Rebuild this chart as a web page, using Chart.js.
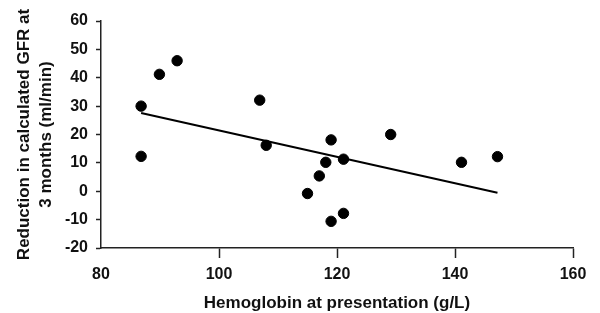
<!DOCTYPE html>
<html>
<head>
<meta charset="utf-8">
<script src="https://cdn.jsdelivr.net/npm/chart.js@4/dist/chart.umd.min.js"></script>
<style>
  html, body { margin: 0; padding: 0; background: #fff; }
  #wrap { width: 600px; height: 313px; position: relative; }
</style>
</head>
<body>
<div id="wrap"><canvas id="myChart"></canvas></div>
<script>
// hemoglobin (g/L) vs reduction in GFR (ml/min)
const hemoglobin = [86.8, 86.8, 89.9, 92.9, 106.9, 108.0, 115.0, 117.0, 118.1, 119.0, 121.1, 119.0, 121.1, 129.1, 141.1, 147.2];
const gfrReduction = [30.0, 12.3, 41.2, 46.0, 32.1, 16.2, -0.8, 5.4, 10.2, 18.1, 11.3, -10.6, -7.8, 20.0, 10.2, 12.2];

// fitted line end points
const fitX = [86.8, 147.2];
const fitY = [27.6, -0.5];

const xTicks = [80, 100, 120, 140, 160];
const yTicks = [-20, -10, 0, 10, 20, 30, 40, 50, 60];

document.addEventListener('DOMContentLoaded', function() {
  const points = hemoglobin.map((x, i) => ({ x: x, y: gfrReduction[i] }));
  const line = fitX.map((x, i) => ({ x: x, y: fitY[i] }));

  const family = 'Liberation Sans, Arial, sans-serif';
  const tickFont = { family: family, size: 16, weight: 'bold' };

  const ctx = document.getElementById('myChart').getContext('2d');
  new Chart(ctx, {
    type: 'scatter',
    data: {
      datasets: [{
        label: 'Patients',
        data: points,
        backgroundColor: '#000',
        borderColor: '#000',
        pointRadius: 5.2,
        pointHoverRadius: 5.2
      }, {
        type: 'line',
        label: 'Fit',
        data: line,
        borderColor: '#000',
        borderWidth: 2,
        pointRadius: 0,
        fill: false
      }]
    },
    options: {
      responsive: true,
      maintainAspectRatio: false,
      animation: false,
      layout: { padding: { top: 21, right: 27, left: 0, bottom: 0 } },
      plugins: {
        legend: { display: false },
        tooltip: { enabled: false }
      },
      scales: {
        x: {
          type: 'linear',
          min: 80,
          max: 160,
          afterBuildTicks: function(scale) {
            scale.ticks = xTicks.map(v => ({ value: v }));
          },
          afterFit: function(scale) { scale.height = 65; },
          border: { display: true, color: '#222', width: 1.5 },
          grid: {
            drawOnChartArea: false,
            drawTicks: true,
            tickLength: 10,
            tickWidth: 1.5,
            tickColor: function(c) { return c.tick && c.tick.value === 80 ? 'rgba(0,0,0,0)' : '#222'; }
          },
          ticks: { color: '#111', font: tickFont, padding: 7, maxRotation: 0 },
          title: {
            display: true,
            text: 'Hemoglobin at presentation (g/L)',
            color: '#111',
            font: { family: family, size: 17, weight: 'bold', lineHeight: '19px' },
            padding: { top: 0, bottom: 0 }
          }
        },
        y: {
          type: 'linear',
          min: -20,
          max: 60,
          afterBuildTicks: function(scale) {
            scale.ticks = yTicks.map(v => ({ value: v }));
          },
          afterFit: function(scale) { scale.width = 101; },
          border: { display: true, color: '#222', width: 1.5 },
          grid: {
            drawOnChartArea: false,
            drawTicks: true,
            tickLength: 5,
            tickWidth: 1.5,
            tickColor: '#222'
          },
          ticks: { color: '#111', font: tickFont, padding: 8 },
          title: {
            display: true,
            text: ['Reduction in calculated GFR at', '3 months (ml/min)'],
            color: '#111',
            font: { family: family, size: 17, weight: 'bold', lineHeight: '22px' },
            padding: { top: 13, bottom: 0 }
          }
        }
      }
    }
  });
});
</script>
</body>
</html>
